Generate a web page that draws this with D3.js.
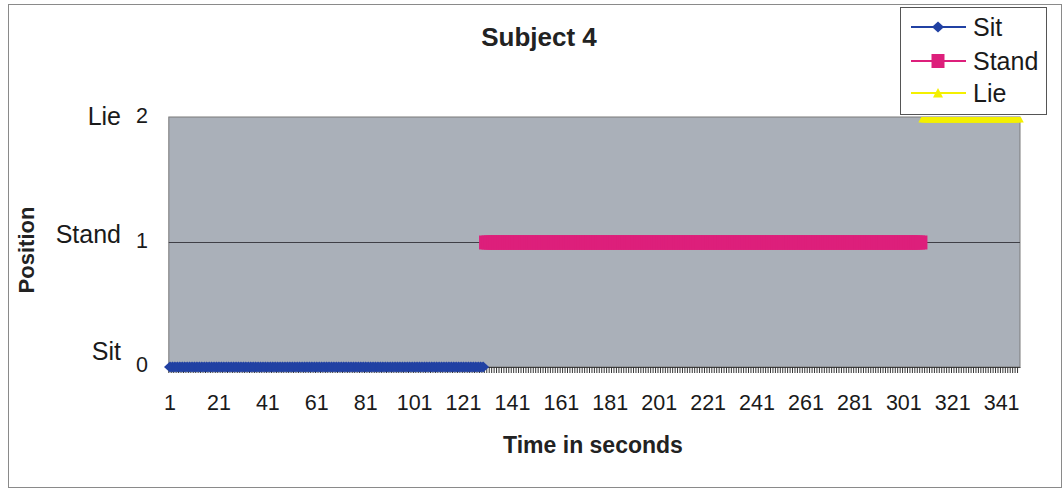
<!DOCTYPE html>
<html>
<head>
<meta charset="utf-8">
<script src="https://cdn.jsdelivr.net/npm/d3@7"></script>
<style>
  html, body { margin: 0; padding: 0; background: #fff; }
  svg { display: block; font-family: Arial, "Liberation Sans", sans-serif; }
</style>
</head>
<body>
<svg id="chart" width="1064" height="490"></svg>
<script>
// Seconds on the category axis, and the labels shown every 20 s
const secondsCount = 348;
const tickLabels = [1, 21, 41, 61, 81, 101, 121, 141, 161, 181, 201, 221, 241, 261, 281, 301, 321, 341];

// Position codes and their names
const positionValues = [0, 1, 2];
const positionNames = ["Sit", "Stand", "Lie"];

// Each posture: first and last second it was held, and its position code
const seriesNames = ["Sit", "Stand", "Lie"];
const seriesSpans = [[1, 129], [130, 308], [309, 348]];
const seriesLevels = [0, 1, 2];
const seriesColors = ["#2141a3", "#dd1f7b", "#f4f000"];

const svg = d3.select("#chart");

// outer chart border
svg.append("rect")
  .attr("x", 8.5).attr("y", 4.5).attr("width", 1053).attr("height", 483)
  .attr("fill", "#fff").attr("stroke", "#8a8a8a").attr("stroke-width", 1);

const plot = { left: 168.8, right: 1020, top: 118, bottom: 367 };

const seconds = d3.range(1, secondsCount + 1);
const x = d3.scaleBand().domain(seconds).range([plot.left, plot.right]).padding(0);
const xc = s => x(s) + x.bandwidth() / 2;
const y = d3.scaleLinear().domain([0, 2]).range([plot.bottom, plot.top]);

// plot background
svg.append("rect")
  .attr("x", plot.left).attr("y", plot.top - 1)
  .attr("width", plot.right - plot.left).attr("height", plot.bottom - plot.top + 1)
  .attr("fill", "#aab0b9").attr("stroke", "#7a7a7a").attr("stroke-width", 1);

svg.append("defs").append("clipPath").attr("id", "plotClip")
  .append("rect")
  .attr("x", plot.left - 20).attr("y", plot.top - 1)
  .attr("width", plot.right - plot.left + 40).attr("height", plot.bottom - plot.top + 30);

// horizontal gridlines
svg.append("g")
  .selectAll("line")
  .data(positionValues.filter(v => v > 0 && v < 2))
  .join("line")
  .attr("x1", plot.left).attr("x2", plot.right)
  .attr("y1", d => y(d)).attr("y2", d => y(d))
  .attr("stroke", "#3f3f46").attr("stroke-width", 1);

// category axis: one tick per second, labels every 20 s
const xAxis = d3.axisBottom(x)
  .tickValues(seconds)
  .tickSize(6)
  .tickSizeOuter(0)
  .tickFormat("");
const xg = svg.append("g")
  .attr("transform", `translate(0,${plot.bottom})`)
  .call(xAxis);
xg.select(".domain").attr("stroke", "#444");
xg.selectAll(".tick line")
  .attr("transform", `translate(${-x.bandwidth() / 2},0)`)
  .attr("stroke", "#333").attr("stroke-width", 1);

svg.append("g")
  .selectAll("text")
  .data(tickLabels)
  .join("text")
  .attr("x", d => xc(d))
  .attr("y", 410)
  .attr("text-anchor", "middle")
  .attr("font-size", 21.5)
  .attr("fill", "#1a1a1a")
  .text(d => d);

// value axis numbers
const yAxis = d3.axisLeft(y).tickValues(positionValues).tickFormat(d3.format("d")).tickSize(0);
const yg = svg.append("g").attr("transform", `translate(148,0)`).call(yAxis);
yg.select(".domain").remove();
yg.selectAll("text")
  .attr("font-size", 21.5).attr("fill", "#1a1a1a")
  .attr("x", 0).attr("dy", "0.22em")
  .attr("font-family", "Arial, 'Liberation Sans', sans-serif");

// posture names beside the numbers
const nameOffset = [-7, 0, 7];
svg.append("g")
  .selectAll("text")
  .data(positionValues)
  .join("text")
  .attr("x", 121)
  .attr("y", (d, i) => y(d) + nameOffset[i])
  .attr("text-anchor", "end")
  .attr("font-size", 25)
  .attr("fill", "#1a1a1a")
  .text((d, i) => positionNames[i]);

// marker shapes per posture
const markerPaths = [
  "M0,-5.5L6,0L0,5.5L-6,0Z",
  "M-6.5,-7H6.5V7H-6.5Z",
  "M0,-5L5,4.5L-5,4.5Z"
];

const seriesLayer = svg.append("g").attr("clip-path", "url(#plotClip)");
seriesNames.forEach((name, i) => {
  const [from, to] = seriesSpans[i];
  const pts = seconds.filter(s => s >= from && s <= to).map(s => ({ s, v: seriesLevels[i] }));
  const line = d3.line().x(d => xc(d.s)).y(d => y(d.v));
  const g = seriesLayer.append("g").attr("class", "series-" + name);
  g.append("path")
    .attr("d", line(pts))
    .attr("fill", "none")
    .attr("stroke", seriesColors[i])
    .attr("stroke-width", 2);
  g.selectAll("path.mk")
    .data(pts)
    .join("path")
    .attr("class", "mk")
    .attr("d", markerPaths[i])
    .attr("transform", d => `translate(${xc(d.s)},${y(d.v)})`)
    .attr("fill", seriesColors[i]);
});

// title and axis titles
svg.append("text")
  .attr("x", 539).attr("y", 46)
  .attr("text-anchor", "middle")
  .attr("font-size", 26).attr("font-weight", "bold").attr("fill", "#222")
  .text("Subject 4");

svg.append("text")
  .attr("x", 593).attr("y", 453)
  .attr("text-anchor", "middle")
  .attr("font-size", 23).attr("font-weight", "bold").attr("fill", "#222")
  .text("Time in seconds");

svg.append("text")
  .attr("transform", "translate(34,250) rotate(-90)")
  .attr("text-anchor", "middle")
  .attr("font-size", 22).attr("font-weight", "bold").attr("fill", "#222")
  .text("Position");

// legend
const legend = svg.append("g");
legend.append("rect")
  .attr("x", 900.5).attr("y", 7.5).attr("width", 146).attr("height", 107)
  .attr("fill", "#fff").attr("stroke", "#555").attr("stroke-width", 1);
const legendY = [27, 61, 93];
seriesNames.forEach((name, i) => {
  const row = legend.append("g").attr("transform", `translate(0,${legendY[i]})`);
  row.append("line")
    .attr("x1", 911).attr("x2", 966).attr("y1", 0).attr("y2", 0)
    .attr("stroke", seriesColors[i]).attr("stroke-width", 2);
  row.append("path")
    .attr("d", markerPaths[i])
    .attr("transform", "translate(938,0)")
    .attr("fill", seriesColors[i]);
  row.append("text")
    .attr("x", 973).attr("y", 0).attr("dy", "0.36em")
    .attr("font-size", 25).attr("fill", "#1a1a1a")
    .text(name);
});
</script>
</body>
</html>
